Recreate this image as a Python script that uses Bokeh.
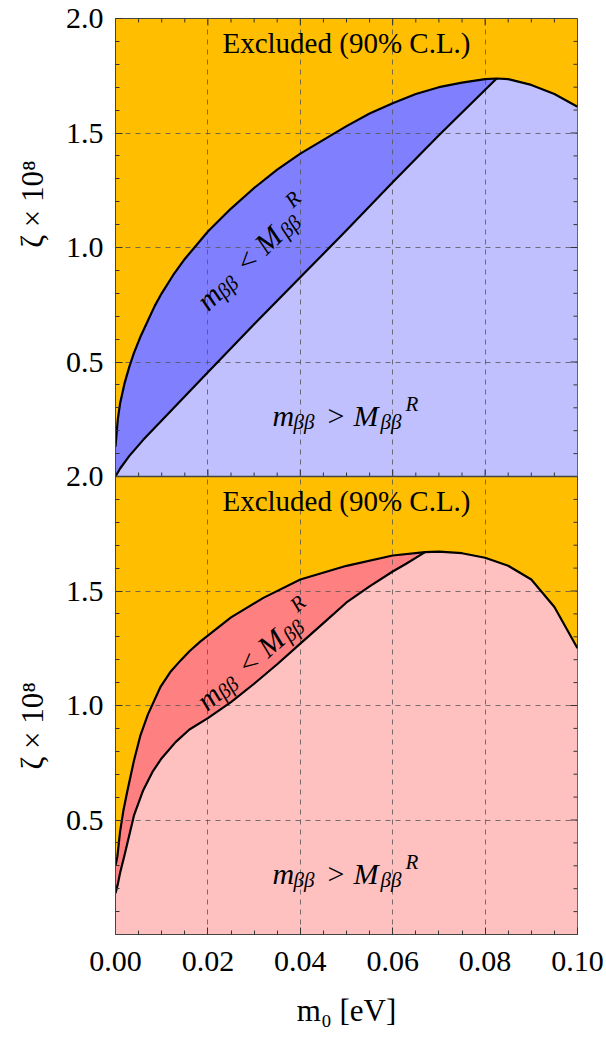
import math
from bokeh.plotting import figure
from bokeh.models import Range1d, FixedTicker, Label, Span
from bokeh.embed import file_html
from bokeh.resources import INLINE

# ---------------- data ----------------
# upper panel: zeta x 1e8 vs m0 [eV]
top_upper_x = [0.0, 0.0005, 0.001, 0.002, 0.003, 0.004, 0.0055, 0.007, 0.0085, 0.01, 0.0125,
               0.015, 0.0175, 0.02, 0.025, 0.03, 0.035, 0.04, 0.045, 0.05, 0.055, 0.06, 0.065,
               0.07, 0.075, 0.08, 0.0825, 0.085, 0.09, 0.095, 0.1]
top_upper_y = [0.13, 0.25, 0.32, 0.41, 0.48, 0.54, 0.615, 0.68, 0.745, 0.80, 0.88,
               0.95, 1.01, 1.07, 1.17, 1.26, 1.34, 1.41, 1.47, 1.53, 1.585, 1.63, 1.67,
               1.70, 1.72, 1.735, 1.738, 1.735, 1.71, 1.67, 1.615]
top_lower_x = [0.0, 0.001, 0.003, 0.006, 0.01, 0.02, 0.03, 0.04, 0.05, 0.06, 0.07, 0.0825]
top_lower_y = [0.0, 0.035, 0.09, 0.16, 0.245, 0.455, 0.665, 0.87, 1.075, 1.285, 1.49, 1.738]

# lower panel
bot_upper_x = [0.0, 0.0004, 0.001, 0.0017, 0.0025, 0.004, 0.0054, 0.007, 0.0097, 0.012,
               0.0141, 0.016, 0.0184, 0.025, 0.032, 0.04, 0.05, 0.06, 0.067, 0.07, 0.075,
               0.08, 0.085, 0.09, 0.095, 0.1]
bot_upper_y = [0.30, 0.34, 0.45, 0.54, 0.62, 0.76, 0.87, 0.96, 1.08, 1.15,
               1.197, 1.237, 1.28, 1.385, 1.47, 1.55, 1.61, 1.655, 1.67, 1.672, 1.665,
               1.645, 1.61, 1.55, 1.43, 1.25]
bot_lower_x = [0.0, 0.0005, 0.001, 0.002, 0.004, 0.006, 0.008, 0.01, 0.013, 0.016, 0.02,
               0.025, 0.03, 0.035, 0.04, 0.045, 0.05, 0.055, 0.06, 0.063, 0.067]
bot_lower_y = [0.18, 0.22, 0.27, 0.35, 0.52, 0.63, 0.71, 0.77, 0.84, 0.895, 0.945,
               1.015, 1.095, 1.18, 1.27, 1.36, 1.45, 1.52, 1.585, 1.62, 1.67]

x_major = [0.0, 0.02, 0.04, 0.06, 0.08, 0.10]
x_labels = ["0.00", "0.02", "0.04", "0.06", "0.08", "0.10"]
y_major = [0.5, 1.0, 1.5, 2.0]
y_labels = ["0.5", "1.0", "1.5", "2.0"]

PANEL = 2.0  # vertical offset of the upper panel

ORANGE = "#FFBF00"
BLUE_D, BLUE_L = "#8080FF", "#C0C0FF"
PINK_D, PINK_L = "#FF8080", "#FFC0C0"
FONT = "Liberation Serif"

W, H = 604, 1040
BL, BR, BT, BB = 115, 27, 18, 106
FW, FH = W - BL - BR, H - BT - BB
XU = FW / 0.1            # px per x unit
YU = FH / (2 * PANEL)    # px per y unit

# ---------------- figure ----------------
p = figure(width=W, height=H, x_range=Range1d(0, 0.1), y_range=Range1d(0, 2 * PANEL),
           output_backend="svg", toolbar_location=None,
           min_border_left=BL, min_border_right=BR, min_border_top=BT, min_border_bottom=BB,
           background_fill_color=ORANGE, border_fill_color="white",
           outline_line_color="#444444", outline_line_width=1)

x_minor = [round(i * 0.005, 4) for i in range(21) if i % 4 != 0]
y_ticks = y_major + [v + PANEL for v in y_major]
y_over = {}
for v, s in zip(y_major, y_labels):
    y_over[v] = s
    y_over[v + PANEL] = s
y_minor = [round(i * 0.1, 2) for i in range(41) if i % 5 != 0]

xt = FixedTicker(ticks=x_major, minor_ticks=x_minor)
yt = FixedTicker(ticks=sorted(y_ticks), minor_ticks=y_minor)

p.xaxis.ticker = xt
p.yaxis.ticker = yt
p.xaxis.major_label_overrides = {v: s for v, s in zip(x_major, x_labels)}
p.yaxis.major_label_overrides = y_over

for ax in [p.xaxis[0], p.yaxis[0]]:
    ax.major_label_text_font = FONT
    ax.major_label_text_font_size = "30px"
    ax.major_label_text_color = "black"
    ax.major_tick_in = 7
    ax.major_tick_out = 0
    ax.minor_tick_in = 4
    ax.minor_tick_out = 0
    ax.axis_line_color = "#444444"
    ax.major_tick_line_color = "#333333"
    ax.minor_tick_line_color = "#333333"
    ax.axis_label_text_font = FONT
    ax.axis_label_text_font_size = "31px"
    ax.axis_label_text_font_style = "normal"
    ax.axis_label_text_color = "black"

p.xaxis.major_label_standoff = 17
p.yaxis.major_label_standoff = 12
p.xaxis.axis_label = "m\u2080 [eV]"
p.xaxis.axis_label_standoff = 19
ylab = "\u03b6 \u00d7 10\u2078"
p.yaxis.axis_label = "\u00a0" * 3 + ylab + "\u00a0" * 56 + ylab
p.yaxis.axis_label_standoff = 13

p.xgrid.ticker = FixedTicker(ticks=[v for v in x_major if 0 < v < 0.1])
p.ygrid.ticker = FixedTicker(ticks=[v for v in y_ticks if v not in (PANEL, 2 * PANEL)])
for g in [p.xgrid[0], p.ygrid[0]]:
    g.grid_line_color = "#555555"
    g.grid_line_alpha = 0.8
    g.grid_line_dash = "5 5"
    g.grid_line_width = 1

# ---------------- fills ----------------
def panel_patches(up_x, up_y, lo_x, lo_y, off, dark, light):
    xm = lo_x[-1]
    up_left = [(a, b) for a, b in zip(up_x, up_y) if a <= xm]
    up_right = [(a, b) for a, b in zip(up_x, up_y) if a > xm]
    lx = [0.0] + list(lo_x) + [a for a, _ in up_right] + [0.1]
    ly = [off] + [v + off for v in lo_y] + [b + off for _, b in up_right] + [off]
    dx = [a for a, _ in up_left] + list(lo_x[::-1])
    dy = [b + off for _, b in up_left] + [v + off for v in lo_y[::-1]]
    p.patch(dx, dy, fill_color=dark, line_color=None, level="image")
    p.patch(lx, ly, fill_color=light, line_color=None, level="image")
    p.line(list(up_x), [v + off for v in up_y], line_color="black", line_width=2.2,
           line_join="round")
    p.line(list(lo_x), [v + off for v in lo_y], line_color="black", line_width=2.2,
           line_join="round")

panel_patches(top_upper_x, top_upper_y, top_lower_x, top_lower_y, PANEL, BLUE_D, BLUE_L)
panel_patches(bot_upper_x, bot_upper_y, bot_lower_x, bot_lower_y, 0.0, PINK_D, PINK_L)

# separator between the panels, with upward ticks; frame ticks on the top and right edges
p.add_layout(Span(location=PANEL, dimension="width", line_color="#444444", line_width=1.5))
tx_all = [v for v in x_major if 0 < v < 0.1] + x_minor
tlen = [(7 if v in x_major else 4) for v in tx_all]
p.segment(x0=tx_all, y0=[PANEL] * len(tx_all), x1=tx_all,
          y1=[PANEL + L / YU for L in tlen], line_color="#333333", line_width=1)
p.segment(x0=tx_all, y0=[2 * PANEL] * len(tx_all), x1=tx_all,
          y1=[2 * PANEL - L / YU for L in tlen], line_color="#333333", line_width=1)
ty_all = [v for v in y_ticks if v not in (PANEL, 2 * PANEL)] + y_minor
tylen = [(7 if v in y_ticks else 4) for v in ty_all]
p.segment(x0=[0.1] * len(ty_all), y0=ty_all, x1=[0.1 - L / XU for L in tylen], y1=ty_all,
          line_color="#333333", line_width=1)

# ---------------- texts ----------------
def compose(x, y, pieces, total, angle_deg=0.0, base_rise=0.0):
    th = math.radians(angle_deg)
    for text, size, italic, rise, start in pieces:
        a = start - total / 2
        r = rise + base_rise
        dx = a * math.cos(th) - r * math.sin(th)
        dy = a * math.sin(th) + r * math.cos(th)
        p.add_layout(Label(x=x, y=y, x_offset=dx, y_offset=dy, text=text, angle=th,
                           text_align="left", text_baseline="alphabetic",
                           text_font=FONT, text_font_size=f"{size}px",
                           text_font_style="italic" if italic else "normal",
                           text_color="black"))

S, s = 30, 21
def mm(op):
    return [("m", S, True, 0, 0), ("\u03b2\u03b2", s, True, -6, 21),
            (op, S, False, 0, 55), ("M", S, True, 0, 81),
            ("\u03b2\u03b2", s, True, -6, 108), ("R", s, True, 12, 133)]
LEN = 146

for off in (PANEL, 0.0):
    p.add_layout(Label(x=0.05, y=1.895 + off, text="Excluded (90% C.L.)", text_align="center",
                       text_baseline="middle", text_font=FONT, text_font_size="29px",
                       text_color="black"))
    compose(0.0498, 0.265 + off, mm(">"), LEN)

compose(0.0285, 1.0 + PANEL, mm("<"), LEN, angle_deg=44, base_rise=-9)
compose(0.029, 1.245, mm("<"), LEN, angle_deg=41, base_rise=-9)

open("out.html", "w").write(file_html(p, INLINE))
